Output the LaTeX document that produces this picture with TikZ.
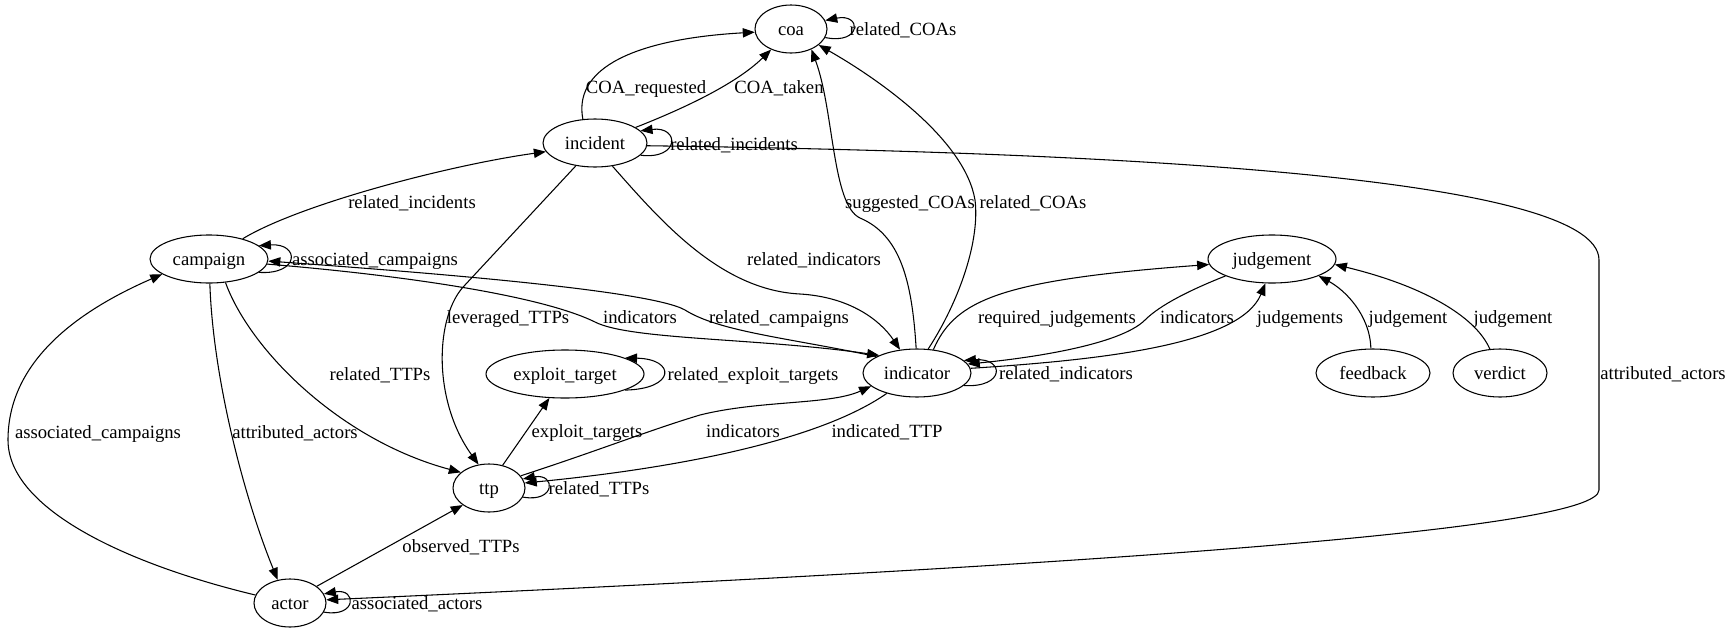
\documentclass[tikz,border=0pt]{standalone}
\usepackage{fontspec}
\setmainfont{Liberation Serif}
\usetikzlibrary{arrows.meta,shapes.geometric}

\begin{document}
\begin{tikzpicture}[
  x=0.75pt, y=-0.75pt,
  ent/.style={draw, ellipse, line width=0.8pt, inner sep=0pt, minimum height=36pt, minimum width=54pt, text height=12pt, text depth=3pt, font=\fontsize{14pt}{16pt}\selectfont},
  lbl/.style={inner sep=0pt, text height=12pt, text depth=3pt, font=\fontsize{14pt}{16pt}\selectfont},
  arrow/.style={-{Triangle[length=9pt,width=7pt]}, line width=0.8pt}
]
\useasboundingbox (0,0) rectangle (1725,632);

% entities
\node[ent] (coa) at (791,29) {coa};
\node[ent, minimum width=78pt] (incident) at (595,143) {incident};
\node[ent, minimum width=88.5pt] (campaign) at (209,259) {campaign};
\node[ent, minimum width=96pt] (judgement) at (1272,259) {judgement};
\node[ent, minimum width=118.5pt] (exploit) at (565,374) {exploit\_target};
\node[ent, minimum width=81pt] (indicator) at (917,373) {indicator};
\node[ent, minimum width=85.5pt] (feedback) at (1373,373) {feedback};
\node[ent, minimum width=70.5pt] (verdict) at (1500,373) {verdict};
\node[ent] (ttp) at (489,488) {ttp};
\node[ent] (actor) at (290,603) {actor};

% edge labels
\node[lbl] (lCoaReq) at (646,87) {COA\_requested};
\node[lbl] (lCoaTaken) at (779,87) {COA\_taken};
\node[lbl] (lCoaLoop) at (903,29) {related\_COAs};
\node[lbl] (lIncLoop) at (734,144) {related\_incidents};
\node[lbl] (lCampInc) at (412,202) {related\_incidents};
\node[lbl] (lCampLoop) at (375,259) {associated\_campaigns};
\node[lbl] (lIncInd) at (814,259) {related\_indicators};
\node[lbl] (lSugg) at (910,202) {suggested\_COAs};
\node[lbl] (lIndCoa) at (1033,202) {related\_COAs};
\node[lbl] (lLev) at (508,317) {leveraged\_TTPs};
\node[lbl] (lCampInd) at (640,317) {indicators};
\node[lbl] (lIndCamp) at (779,317) {related\_campaigns};
\node[lbl] (lReqJud) at (1057,317) {required\_judgements};
\node[lbl] (lJudInd) at (1197,317) {indicators};
\node[lbl] (lIndJud) at (1300,317) {judgements};
\node[lbl] (lFeed) at (1408,317) {judgement};
\node[lbl] (lVerd) at (1513,317) {judgement};
\node[lbl] (lCampTtp) at (380,374) {related\_TTPs};
\node[lbl] (lExpLoop) at (753,374) {related\_exploit\_targets};
\node[lbl] (lIndLoop) at (1066,373) {related\_indicators};
\node[lbl] (lIncAct) at (1663,373) {attributed\_actors};
\node[lbl] (lActCamp) at (98,432) {associated\_campaigns};
\node[lbl] (lCampAct) at (295,432) {attributed\_actors};
\node[lbl] (lTtpExp) at (587,431) {exploit\_targets};
\node[lbl] (lTtpInd) at (743,431) {indicators};
\node[lbl] (lIndTtp) at (887,431) {indicated\_TTP};
\node[lbl] (lTtpLoop) at (599,488) {related\_TTPs};
\node[lbl] (lActTtp) at (461,546) {observed\_TTPs};
\node[lbl] (lActLoop) at (417,603) {associated\_actors};

% incident
\draw[arrow] (incident.117) .. controls (572,62) and (650,38) .. (coa.185);
\draw[arrow] (incident.21) .. controls (680,110) and (735,85) .. (coa.226);
\draw[arrow] (incident.-15) .. controls (680,160) and (680,126) .. (incident.15);
\draw[arrow] (incident.-53) .. controls (660,220) and (720,290) .. (800,294) .. controls (850,297) and (880,320) .. (indicator.126);
\draw[arrow] (incident.-130) -- (465,285) .. controls (435,315) and (432,400) .. (ttp.114);
\draw[arrow] (incident.-3) .. controls (1100,152) and (1599,175) .. (1599,260) -- (1599,490) .. controls (1599,530) and (1100,565) .. (actor.5);

% coa
\draw[arrow] (coa.-14) .. controls (862,45) and (862,13) .. (coa.14);

% campaign
\draw[arrow] (campaign.31) .. controls (300,204) and (450,165) .. (incident.190);
\draw[arrow] (campaign.-15) .. controls (300,275) and (300,243) .. (campaign.15);
\draw[arrow] (campaign.-5) .. controls (400,275) and (540,295) .. (595,322) .. controls (630,340) and (760,338) .. (indicator.155);
\draw[arrow] (indicator.158) .. controls (790,338) and (720,332) .. (685,310) .. controls (650,290) and (420,272) .. (campaign.-2);
\draw[arrow] (campaign.-55) .. controls (250,350) and (340,440) .. (ttp.151);
\draw[arrow] (campaign.-88) .. controls (213,380) and (245,500) .. (actor.118);

% actor
\draw[arrow] (actor.167) .. controls (130,565) and (8,510) .. (8,440) .. controls (8,360) and (80,310) .. (campaign.198);
\draw[arrow] (actor.32) -- (ttp.213);
\draw[arrow] (actor.-15) .. controls (357,618) and (357,588) .. (actor.15);

% ttp and exploit_target
\draw[arrow] (ttp.59) -- (exploit.237);
\draw[arrow] (exploit.-15) .. controls (676,389) and (676,359) .. (exploit.15);
\draw[arrow] (ttp.-15) .. controls (556,503) and (556,473) .. (ttp.15);
\draw[arrow] (ttp.21) .. controls (600,450) and (650,430) .. (700,415) .. controls (760,400) and (830,405) .. (indicator.196);
\draw[arrow] (indicator.214) .. controls (820,440) and (680,468) .. (ttp.8);

% indicator
\draw[arrow] (indicator.92) .. controls (912,280) and (900,235) .. (860,218) .. controls (832,205) and (834,110) .. (coa.-45);
\draw[arrow] (indicator.65) .. controls (960,300) and (980,240) .. (975,200) .. controls (965,140) and (880,80) .. (coa.-30);
\draw[arrow] (indicator.-15) .. controls (1005,388) and (1005,358) .. (indicator.15);
\draw[arrow] (indicator.55) .. controls (955,300) and (1000,280) .. (judgement.185);
\draw[arrow] (judgement.200) .. controls (1190,290) and (1160,305) .. (1145,320) .. controls (1120,345) and (1030,358) .. (indicator.10);
\draw[arrow] (indicator.5) .. controls (1100,360) and (1240,345) .. (judgement.-105);

% judgement sources
\draw[arrow] (feedback.95) .. controls (1370,315) and (1345,290) .. (judgement.-20);
\draw[arrow] (verdict.113) .. controls (1475,315) and (1420,285) .. (judgement.-5);
\end{tikzpicture}
\end{document}
